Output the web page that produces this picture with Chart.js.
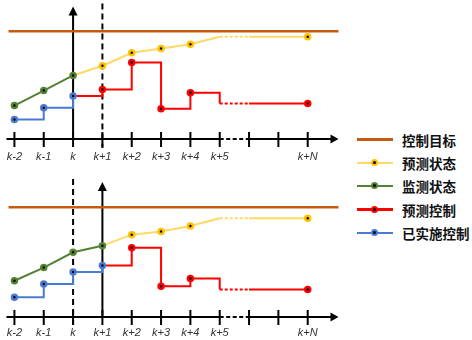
<!DOCTYPE html>
<html>
<head>
<meta charset="utf-8">
<script src="https://cdn.jsdelivr.net/npm/chart.js@4.4.1/dist/chart.umd.min.js"></script>
<style>
  html, body { margin: 0; padding: 0; background: #fff; }
  #wrap { position: relative; width: 472px; height: 340px; overflow: hidden; }
  .panel { position: absolute; left: 0; width: 345px; height: 170px; }
  .panel canvas { display: block; }
  #legend { position: absolute; left: 357px; top: 128px; margin: 0; padding: 0; list-style: none; }
  #legend li { display: flex; align-items: center; height: 23.3px; }
  #legend .sw { position: relative; width: 36px; height: 2.5px; margin-right: 9px; }
  #legend .sw i { position: absolute; left: 14px; top: -2.75px; width: 3px; height: 3px;
                  border-radius: 50%; background: #000; border: 2.5px solid; }
  #legend span.t { font: bold 13.5px "Noto Sans CJK SC", sans-serif; color: #111; }
</style>
</head>
<body>
<div id="wrap">
  <div class="panel" style="top:0"><canvas id="chartTop" width="345" height="170"></canvas></div>
  <div class="panel" style="top:170px"><canvas id="chartBottom" width="345" height="170"></canvas></div>
  <ul id="legend"></ul>
</div>
<script>
(() => {
  "use strict";

  /* ---------- data ---------- */
  const xLabels = ["k-2", "k-1", "k", "k+1", "k+2", "k+3", "k+4", "k+5", "", "", "k+N"];
  const X_MIN = -0.27, X_MAX = 11.05;
  const GAP_FROM = 7;            // k+5 → k+6 is the elided stretch
  const TARGET = 100;
  const targetX = [-0.2, X_MAX];

  // top panel: current instant k
  const topMeasX = [0, 1, 2];
  const topMeasured = [31, 45, 59];
  const topApplied = [18, 29, 40];
  const topPredX = [2, 3, 4, 5, 6, 7, 8, 10];
  const topPredState = [59, 68, 80, 84, 88, 95, 95, 95];
  const topPredCtrl = [40, 46, 71, 28, 43, 33, 33, 33];

  // bottom panel: current instant k+1
  const botMeasX = [0, 1, 2, 3];
  const botMeasured = [33, 45, 59, 65];
  const botApplied = [18, 30, 41, 47];
  const botPredX = [3, 4, 5, 6, 7, 8, 10];
  const botPredState = [65, 75, 78, 83, 90, 90, 90];
  const botPredCtrl = [47, 63, 28, 35, 25, 25, 25];

  const legendNames = ["控制目标", "预测状态", "监测状态", "预测控制", "已实施控制"];

  const COLORS = {
    target: "#c55a11",
    predState: "#ffd966", predStateDot: "#ffc000",
    measured: "#548235",
    predCtrl: "#ff0000",
    applied: "#4a7bd4",
  };

  const pts = (xs, ys) => xs.map((x, i) => ({ x, y: ys[i] }));

  /* ---------- axes drawn from the chart's own scales ---------- */
  const axisArt = {
    id: "axisArt",
    beforeDatasetsDraw(chart, _args, o) {
      const { ctx, chartArea: ca, scales: { x, y } } = chart;
      const y0 = y.getPixelForValue(0);
      const px = (v) => x.getPixelForValue(v);
      const seg = (x1, y1, x2, y2, dash) => {
        ctx.setLineDash(dash || []);
        ctx.beginPath(); ctx.moveTo(x1, y1); ctx.lineTo(x2, y2); ctx.stroke();
      };
      ctx.save();
      ctx.strokeStyle = "#000"; ctx.fillStyle = "#000"; ctx.lineWidth = 2;

      // time axis with a dashed break and an arrow head
      seg(ca.left, y0, px(GAP_FROM), y0);
      seg(px(GAP_FROM), y0, px(GAP_FROM + 1), y0, [4, 2.5]);
      seg(px(GAP_FROM + 1), y0, ca.right - 6, y0);
      ctx.beginPath();
      ctx.moveTo(ca.right, y0); ctx.lineTo(ca.right - 8, y0 - 4.5); ctx.lineTo(ca.right - 8, y0 + 4.5);
      ctx.fill();
      xLabels.forEach((_, i) => seg(px(i), y0 - 7, px(i), y0 + 8));

      // current instant: vertical arrow
      const xn = px(o.now);
      seg(xn, y0, xn, ca.top + 7);
      ctx.beginPath();
      ctx.moveTo(xn, ca.top); ctx.lineTo(xn - 4.5, ca.top + 9); ctx.lineTo(xn + 4.5, ca.top + 9);
      ctx.fill();

      // the other instant: dashed marker line
      const xd = px(o.dashed);
      seg(xd, ca.top - 3, xd, y0 + 9, [6, 4]);

      ctx.setLineDash([]);
      ctx.font = 'italic 11px "Liberation Sans", Arial, sans-serif';
      ctx.textAlign = "center"; ctx.textBaseline = "middle"; ctx.fillStyle = "#333";
      xLabels.forEach((lab, i) => ctx.fillText(lab, px(i), y0 + o.labelGap));
      ctx.restore();
    },
  };

  const dotted = (c) => (c.p0.parsed.x === GAP_FROM ? [3, 2] : undefined);
  const predRadius = (c) => {
    const xv = c.raw && c.raw.x;
    return c.dataIndex === 0 || xv === GAP_FROM || xv === GAP_FROM + 1 ? 0 : 2.5;
  };

  function line(label, data, color, dot, extra) {
    return Object.assign({
      label, data, borderColor: color, borderWidth: 2,
      pointRadius: 2.5, pointBorderWidth: 2.5,
      pointBackgroundColor: "#000", pointBorderColor: dot || color,
      tension: 0, fill: false, clip: false,
    }, extra || {});
  }

  function makePanel(id, p) {
    return new Chart(document.getElementById(id), {
      type: "line",
      data: {
        datasets: [
          line("监测状态", pts(p.measX, p.measured), COLORS.measured),
          line("已实施控制", pts(p.measX, p.applied), COLORS.applied, null, { stepped: "before" }),
          line("预测状态", pts(p.predX, p.predState), COLORS.predState, COLORS.predStateDot,
               { pointRadius: predRadius, segment: { borderDash: dotted } }),
          line("预测控制", pts(p.predX, p.predCtrl), COLORS.predCtrl, null,
               { stepped: "before", pointRadius: predRadius, segment: { borderDash: dotted } }),
          line("控制目标", pts(targetX, targetX.map(() => TARGET)), COLORS.target, null,
               { pointRadius: 0, borderWidth: 2.5 }),
        ],
      },
      options: {
        responsive: false, animation: false, events: [],
        layout: { padding: { left: 5, right: 5, top: p.padTop, bottom: p.padBottom } },
        scales: {
          x: { type: "linear", min: X_MIN, max: X_MAX, display: false },
          y: { min: 0, max: 123, display: false },
        },
        plugins: {
          legend: { display: false }, tooltip: { enabled: false },
          axisArt: { now: p.now, dashed: p.dashed, labelGap: p.labelGap },
        },
      },
      plugins: [axisArt],
    });
  }

  makePanel("chartTop", {
    measX: topMeasX, measured: topMeasured, applied: topApplied,
    predX: topPredX, predState: topPredState, predCtrl: topPredCtrl,
    now: 2, dashed: 3, padTop: 5, padBottom: 31, labelGap: 18,
  });
  makePanel("chartBottom", {
    measX: botMeasX, measured: botMeasured, applied: botApplied,
    predX: botPredX, predState: botPredState, predCtrl: botPredCtrl,
    now: 3, dashed: 2, padTop: 12, padBottom: 23, labelGap: 16,
  });

  /* ---------- legend ---------- */
  const legendLine = [COLORS.target, COLORS.predState, COLORS.measured, COLORS.predCtrl, COLORS.applied];
  const legendDot = [null, COLORS.predStateDot, COLORS.measured, COLORS.predCtrl, COLORS.applied];
  document.getElementById("legend").innerHTML = legendNames.map((n, i) =>
    `<li><span class="sw" style="background:${legendLine[i]};${i === 0 ? "height:3px" : ""}">` +
    (legendDot[i] ? `<i style="border-color:${legendDot[i]}"></i>` : "") +
    `</span><span class="t">${n}</span></li>`).join("");
})();
</script>
</body>
</html>
